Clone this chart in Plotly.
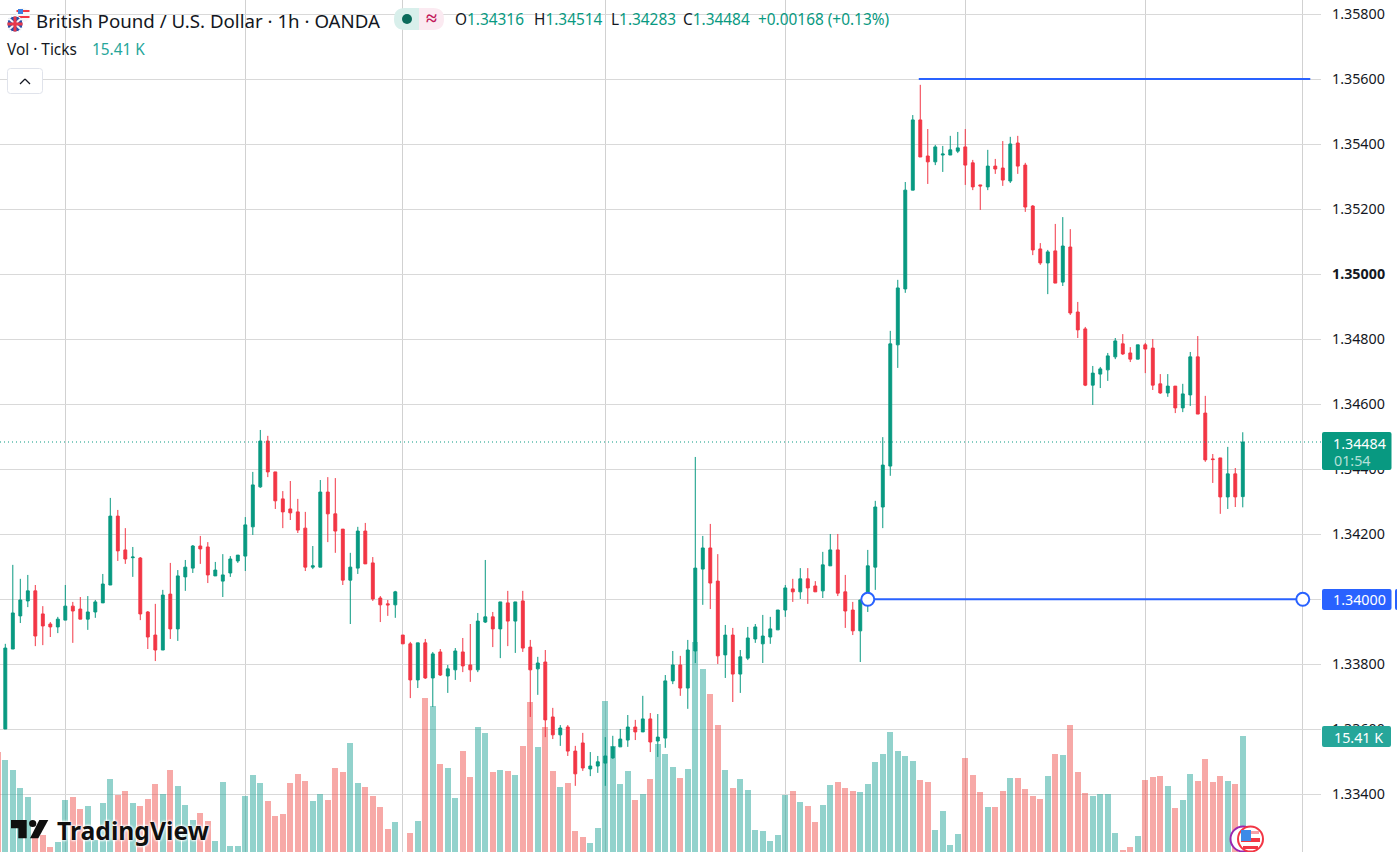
import plotly.graph_objects as go

W, H = 1397, 852
TEAL = "#089981"
RED = "#f23645"
BLUE = "#2962ff"
INK = "#131722"
FONT = "Noto Sans"

bars = list(range(-1, 166))
opens = [1.33620,
1.33601,1.33847,1.33949,1.33995,1.34026,1.33955,1.33924,1.33915,1.33936,1.33979,
1.33970,1.33939,1.33961,1.33989,1.34044,1.34256,1.34152,1.34128,1.34127,1.33961,
1.33890,1.33844,1.34016,1.33909,1.34069,1.34096,1.34164,1.34161,1.34072,1.34056,
1.34081,1.34118,1.34133,1.34223,1.34346,1.34487,1.34392,1.34309,1.34278,1.34269,
1.34219,1.34099,1.34099,1.34330,1.34263,1.34216,1.34059,1.34096,1.34210,1.34112,
1.34004,1.33986,1.33983,1.33890,1.33863,1.33752,1.33866,1.33758,1.33838,1.33764,
1.33783,1.33838,1.33798,1.33783,1.33930,1.33946,1.33909,1.33989,1.33933,1.33995,
1.33853,1.33786,1.33807,1.33638,1.33583,1.33607,1.33533,1.33558,1.33478,1.33487,
1.33496,1.33512,1.33546,1.33567,1.33607,1.33592,1.33632,1.33564,1.33573,1.33749,
1.33798,1.33727,1.33841,1.34093,1.34158,1.34056,1.33829,1.33890,1.33770,1.33819,
1.33878,1.33863,1.33884,1.33906,1.33967,1.34032,1.34023,1.34063,1.34041,1.34026,
1.34103,1.34152,1.34023,1.33967,1.33903,1.34000,1.34099,1.34284,1.34410,1.34783,
1.34955,1.35259,1.35475,1.35364,1.35346,1.35367,1.35367,1.35379,1.35392,1.35343,
1.35275,1.35269,1.35333,1.35327,1.35287,1.35404,1.35336,1.35210,1.35078,1.35035,
1.35072,1.34976,1.35084,1.34884,1.34832,1.34659,1.34693,1.34706,1.34746,1.34786,
1.34758,1.34739,1.34783,1.34773,1.34663,1.34635,1.34656,1.34589,1.34629,1.34746,
1.34573,1.34432,1.34435,1.34315,1.34386,1.34316]
highs = [1.33640,
1.33863,1.34106,1.34063,1.34075,1.34044,1.33979,1.33930,1.33946,1.34044,1.33992,
1.34007,1.34010,1.33998,1.34078,1.34312,1.34275,1.34219,1.34161,1.34130,1.33964,
1.33986,1.34029,1.34112,1.34090,1.34121,1.34167,1.34195,1.34176,1.34115,1.34139,
1.34133,1.34136,1.34253,1.34392,1.34521,1.34503,1.34392,1.34333,1.34364,1.34309,
1.34269,1.34164,1.34367,1.34376,1.34373,1.34216,1.34143,1.34223,1.34235,1.34130,
1.34010,1.33998,1.34026,1.33890,1.33869,1.33866,1.33878,1.33838,1.33847,1.33798,
1.33850,1.33881,1.33924,1.33958,1.34121,1.33961,1.33992,1.34026,1.33992,1.34026,
1.33875,1.33823,1.33844,1.33666,1.33613,1.33613,1.33549,1.33589,1.33530,1.33518,
1.33576,1.33580,1.33601,1.33644,1.33629,1.33703,1.33650,1.33647,1.33767,1.33841,
1.33826,1.33875,1.34438,1.34195,1.34232,1.34139,1.33921,1.33912,1.33844,1.33915,
1.33924,1.33952,1.33946,1.33967,1.34044,1.34063,1.34096,1.34096,1.34056,1.34146,
1.34201,1.34201,1.34075,1.33992,1.33998,1.34152,1.34303,1.34499,1.34826,1.34983,
1.35284,1.35490,1.35583,1.35447,1.35398,1.35395,1.35426,1.35438,1.35447,1.35352,
1.35275,1.35383,1.35355,1.35410,1.35423,1.35426,1.35343,1.35213,1.35096,1.35075,
1.35155,1.35176,1.35139,1.34915,1.34838,1.34718,1.34715,1.34758,1.34804,1.34816,
1.34776,1.34783,1.34789,1.34801,1.34693,1.34693,1.34656,1.34663,1.34761,1.34810,
1.34626,1.34447,1.34435,1.34469,1.34404,1.34514]
lows = [1.33590,
1.33601,1.33847,1.33927,1.33976,1.33856,1.33859,1.33884,1.33896,1.33936,1.33866,
1.33939,1.33906,1.33943,1.33989,1.34044,1.34118,1.34109,1.34069,1.33936,1.33847,
1.33810,1.33844,1.33878,1.33872,1.34026,1.34081,1.34109,1.34050,1.34072,1.34007,
1.34069,1.34112,1.34087,1.34198,1.34343,1.34376,1.34278,1.34219,1.34244,1.34204,
1.34087,1.34093,1.34099,1.34176,1.34143,1.34044,1.33924,1.34078,1.34109,1.33995,
1.33930,1.33949,1.33943,1.33863,1.33696,1.33727,1.33755,1.33669,1.33764,1.33712,
1.33752,1.33776,1.33746,1.33776,1.33927,1.33853,1.33819,1.33856,1.33835,1.33838,
1.33638,1.33706,1.33576,1.33570,1.33549,1.33518,1.33426,1.33472,1.33456,1.33466,
1.33426,1.33509,1.33546,1.33546,1.33567,1.33592,1.33530,1.33515,1.33543,1.33739,
1.33703,1.33663,1.33804,1.33983,1.33970,1.33801,1.33758,1.33684,1.33712,1.33813,
1.33866,1.33804,1.33863,1.33906,1.33946,1.33992,1.34001,1.33986,1.34023,1.34004,
1.34103,1.34010,1.33912,1.33890,1.33807,1.33961,1.34029,1.34219,1.34380,1.34712,
1.34943,1.35259,1.35361,1.35278,1.35336,1.35315,1.35367,1.35373,1.35275,1.35259,
1.35198,1.35259,1.35309,1.35272,1.35281,1.35309,1.35192,1.35059,1.35029,1.34939,
1.34973,1.34964,1.34875,1.34804,1.34656,1.34598,1.34650,1.34672,1.34739,1.34752,
1.34730,1.34739,1.34696,1.34644,1.34632,1.34623,1.34573,1.34576,1.34595,1.34570,
1.34423,1.34358,1.34263,1.34278,1.34284,1.34283]
closes = [1.33600,
1.33850,1.33958,1.33998,1.34026,1.33887,1.33918,1.33915,1.33939,1.33979,1.33964,
1.33939,1.33961,1.33992,1.34047,1.34256,1.34149,1.34124,1.34130,1.33955,1.33884,
1.33844,1.34013,1.33909,1.34072,1.34099,1.34164,1.34155,1.34075,1.34090,1.34075,
1.34124,1.34136,1.34229,1.34352,1.34487,1.34392,1.34303,1.34269,1.34266,1.34213,
1.34099,1.34103,1.34330,1.34263,1.34210,1.34059,1.34099,1.34210,1.34109,1.34001,
1.33983,1.33983,1.34023,1.33863,1.33752,1.33866,1.33758,1.33832,1.33767,1.33786,
1.33841,1.33795,1.33783,1.33933,1.33946,1.33909,1.33992,1.33933,1.33992,1.33850,
1.33783,1.33804,1.33629,1.33583,1.33604,1.33533,1.33463,1.33481,1.33487,1.33500,
1.33518,1.33546,1.33570,1.33607,1.33592,1.33632,1.33561,1.33576,1.33749,1.33798,
1.33727,1.33844,1.34096,1.34158,1.34050,1.33826,1.33890,1.33770,1.33823,1.33881,
1.33915,1.33887,1.33909,1.33967,1.34035,1.34023,1.34063,1.34035,1.34023,1.34106,
1.34152,1.34019,1.33964,1.33903,1.33998,1.34103,1.34284,1.34413,1.34786,1.34958,
1.35259,1.35475,1.35361,1.35346,1.35392,1.35370,1.35383,1.35389,1.35336,1.35269,
1.35272,1.35333,1.35324,1.35290,1.35401,1.35333,1.35207,1.35075,1.35035,1.35069,
1.34973,1.35087,1.34881,1.34829,1.34659,1.34696,1.34709,1.34749,1.34795,1.34755,
1.34739,1.34783,1.34770,1.34659,1.34635,1.34656,1.34589,1.34632,1.34746,1.34570,
1.34429,1.34430,1.34315,1.34386,1.34315,1.34484]
volumes_k = [13.29,
12.23,10.90,8.51,7.31,2.04,2.26,0.66,1.33,6.91,7.31,
5.71,6.11,1.59,6.51,9.70,7.58,8.11,6.51,6.11,7.04,
9.04,7.71,10.90,8.77,6.25,4.25,5.18,4.12,1.46,9.30,
0.80,0.80,7.44,10.23,9.17,6.78,4.78,5.05,9.17,10.37,
9.44,6.78,7.71,6.91,11.16,10.63,14.49,9.17,8.64,7.44,
5.98,3.06,3.99,0.0,2.53,4.12,20.47,19.40,11.70,11.16,
7.18,13.42,9.97,16.61,15.82,10.63,10.90,10.76,10.23,14.09,
19.94,13.95,16.61,10.76,8.64,9.17,2.79,1.99,1.20,3.19,
20.07,14.09,9.04,10.76,6.91,7.71,9.70,14.35,13.02,11.30,
9.83,11.03,27.91,24.32,21.00,16.88,10.90,8.51,9.70,8.24,
2.92,2.79,1.46,2.26,7.58,8.11,6.65,6.11,3.99,6.25,
8.90,9.30,8.51,8.11,7.97,9.04,11.96,13.02,15.95,13.42,
12.76,12.09,9.57,9.30,2.92,5.45,0.93,2.39,12.49,10.23,
7.97,5.98,5.98,8.11,9.83,9.83,8.37,7.44,7.04,10.10,
13.02,12.89,16.88,10.63,7.84,7.44,7.71,7.71,2.53,0.27,
0.66,2.13,9.57,9.97,10.10,8.77,5.85,6.91,10.37,9.44,
12.36,9.30,10.10,9.44,9.04,15.41]

price_ticks = [1.334, 1.336, 1.338, 1.340, 1.342, 1.344, 1.346, 1.348, 1.350, 1.352, 1.354, 1.356, 1.358]
price_labels = ["1.33400", "1.33600", "1.33800", "1.34000", "1.34200", "1.34400", "1.34600", "1.34800",
                "<b>1.35000</b>", "1.35200", "1.35400", "1.35600", "1.35800"]
time_grid = [8, 32, 53, 80, 104, 128, 152, 173]

last_price = 1.34484
upper_level = 1.35601
lower_level = 1.34000
upper_level_bars = [121.8, 174]
lower_level_bars = [115, 173]
visible_bars = [-0.707, 175.43]
price_range = [1.332225, 1.358440]
volume_range = [0, 113.2]

vol_colors = ["rgba(38,166,154,0.5)" if c >= o else "rgba(239,83,80,0.5)" for o, c in zip(opens, closes)]


def px(x):
    return x / W


def py(y):
    return 1 - y / H


def rrect(x0, y0, x1, y1, r=2):
    a, b, c, d = px(x0), py(y0), px(x1), py(y1)
    rx, ry = r / W, r / H
    return (f"M{a+rx},{b} L{c-rx},{b} Q{c},{b} {c},{b-ry} L{c},{d+ry} Q{c},{d} {c-rx},{d} "
            f"L{a+rx},{d} Q{a},{d} {a},{d+ry} L{a},{b-ry} Q{a},{b} {a+rx},{b} Z")


def poly(points):
    return "M" + " L".join(f"{px(x)},{py(y)}" for x, y in points) + " Z"


def circle(cx, cy, r, fill, line=None, lw=0):
    return dict(type="circle", xref="paper", yref="paper", x0=px(cx - r), x1=px(cx + r), y0=py(cy + r), y1=py(cy - r),
                fillcolor=fill, line=dict(color=line or fill, width=lw), layer="above")


def path(d, fill, line=None, lw=0):
    return dict(type="path", xref="paper", yref="paper", path=d, fillcolor=fill,
                line=dict(color=line or fill, width=lw), layer="above")


def segment(x0, y0, x1, y1, color, lw=1):
    return dict(type="line", xref="paper", yref="paper", x0=px(x0), x1=px(x1), y0=py(y0), y1=py(y1),
                line=dict(color=color, width=lw), layer="above")


def text(x, y, s, size=13, color=INK, anchor="left", family=FONT, shadow=None):
    f = dict(size=size, color=color, family=family)
    if shadow:
        f["shadow"] = shadow
    return dict(xref="paper", yref="paper", x=px(x), y=py(y), text=s, showarrow=False, xanchor=anchor,
                yanchor="middle", font=f, xshift=0, yshift=0)


fig = go.Figure()
fig.add_trace(go.Bar(x=bars, y=volumes_k, marker=dict(color=vol_colors, line=dict(width=0)), width=0.85,
                     yaxis="y", xaxis="x", hoverinfo="skip", showlegend=False))
fig.add_trace(go.Scatter(x=visible_bars, y=[last_price, last_price], mode="lines", yaxis="y2",
                         line=dict(color=TEAL, width=1, dash="1px,3px"), hoverinfo="skip", showlegend=False))
fig.add_trace(go.Candlestick(x=bars, open=opens, high=highs, low=lows, close=closes, yaxis="y2",
                             increasing=dict(line=dict(color=TEAL, width=1), fillcolor=TEAL),
                             decreasing=dict(line=dict(color=RED, width=1), fillcolor=RED),
                             whiskerwidth=0, hoverinfo="skip", showlegend=False))
fig.add_trace(go.Scatter(x=upper_level_bars, y=[upper_level, upper_level], mode="lines", yaxis="y2",
                         line=dict(color=BLUE, width=2), hoverinfo="skip", showlegend=False))
fig.add_trace(go.Scatter(x=lower_level_bars, y=[lower_level, lower_level], mode="lines+markers", yaxis="y2",
                         line=dict(color=BLUE, width=2),
                         marker=dict(size=13, color="white", line=dict(color=BLUE, width=2)),
                         hoverinfo="skip", showlegend=False))

shapes = [
    # price tags
    path(rrect(1322, 432, 1391.5, 470), TEAL),
    path(rrect(1322, 589, 1391.5, 610), BLUE),
    path(rrect(1395, 589, 1400, 610), BLUE),
    path(rrect(1322, 726, 1391, 747), "#26a69a"),
    # collapse button
    path(rrect(7.5, 68.5, 42.5, 93.5, 3), "white", "#e0e3eb", 1),
    segment(20, 84, 25, 79, INK, 1.3),
    segment(25, 79, 30, 84, INK, 1.3),
    # status pill
    path(rrect(394, 8, 430, 30, 11), "#d8efeb"),
    path(rrect(408, 8, 444, 30, 11), "#fbeaf1"),
    path(rrect(408, 8, 419, 30, 0), "#d8efeb"),
    circle(407, 19, 5, "#0a6b5b"),
    # currency flags
    circle(23, 15, 7, "#f7f7f7"),
    path(poly([(16.5, 10), (29.5, 10), (29.5, 12), (16.5, 12)]), "#f23645"),
    path(poly([(16.5, 16), (29.5, 16), (29.5, 18), (16.5, 18)]), "#f23645"),
    path(poly([(18, 9), (23, 9), (23, 14), (18, 14)]), "#3d7fe0"),
    circle(15, 24, 8, "#2b4fa8", "white", 1),
    path(poly([(8, 19), (10, 18), (22, 29), (20, 30)]), "#f5f5f5"),
    path(poly([(22, 19), (20, 18), (8, 29), (10, 30)]), "#f5f5f5"),
    path(poly([(7.5, 22.5), (22.5, 22.5), (22.5, 25.5), (7.5, 25.5)]), "#e8384a"),
    path(poly([(13.5, 16.5), (16.5, 16.5), (16.5, 31.5), (13.5, 31.5)]), "#e8384a"),
    # TradingView logo
    path(poly([(11, 820), (26.7, 820), (26.7, 838.3), (18.3, 838.3), (18.3, 828.3), (11, 828.3)]), "#0f0f0f"),
    circle(32.7, 823.5, 3.6, "#0f0f0f"),
    path(poly([(39.3, 820), (48.3, 820), (38.3, 838.3), (30, 838.3)]), "#0f0f0f"),
    # event badges
    circle(1243, 839, 12.5, "white", "#9c27b0", 2),
    circle(1250.5, 839, 12.5, "white", "#f23645", 2),
    path(poly([(1241, 831), (1259, 831), (1259, 834), (1241, 834)]), "#f7a0a8"),
    path(poly([(1241, 838), (1260, 838), (1260, 842), (1241, 842)]), "#f23645"),
    path(poly([(1243, 846), (1258, 846), (1258, 849), (1243, 849)]), "#f23645"),
    path(poly([(1241, 830), (1251, 830), (1251, 841), (1241, 841)]), "#3d8be8"),
]

annotations = [
    text(33.5, 20, "British Pound / U.S. Dollar · 1h · OANDA", 18.7, INK),
    text(431, 18, "<b>≈</b>", 20, "#c2185b", "center"),
    text(452.5, 19, f'O<span style="color:{TEAL}">1.34316</span>', 15.4),
    text(531.5, 19, f'H<span style="color:{TEAL}">1.34514</span>', 15.4),
    text(608.5, 19, f'L<span style="color:{TEAL}">1.34283</span>', 15.4),
    text(680.5, 19, f'C<span style="color:{TEAL}">1.34484</span>', 15.4),
    text(755.5, 19, f'<span style="color:{TEAL}">+0.00168 (+0.13%)</span>', 15.4),
    text(5, 49, "Vol · Ticks", 15.4),
    text(89.5, 49, "15.41 K", 15.4, "#26a69a"),
    text(1359, 443, "1.34484", 14.3, "white", "center"),
    text(1352, 460, "01:54", 14.3, "#b5e0d8", "center"),
    text(1359, 599.5, "1.34000", 14.3, "white", "center"),
    text(1358, 737, "15.41 K", 14.3, "white", "center"),
    text(55, 830, "<b>TradingView</b>", 24.7, "#0f0f0f", shadow="0 0 3px #fff, 0 0 3px #fff, 0 0 3px #fff"),
]

fig.update_layout(
    width=W, height=H, autosize=False,
    margin=dict(l=0, r=0, t=0, b=0),
    paper_bgcolor="white", plot_bgcolor="white",
    showlegend=False, bargap=0, dragmode=False, boxgap=0.45,
    xaxis=dict(domain=[0, 1321 / W], range=visible_bars, rangeslider=dict(visible=False), tickmode="array",
               tickvals=time_grid, showticklabels=False, ticks="", showgrid=True, gridcolor="#d1d1d1", gridwidth=1,
               zeroline=False, showline=False),
    yaxis=dict(domain=[0, 1], range=volume_range, visible=False, showgrid=False, fixedrange=True),
    yaxis2=dict(domain=[0, 1], range=price_range, overlaying="y", side="right", anchor="x", tickmode="array",
                tickvals=price_ticks, ticktext=price_labels, showgrid=True, gridcolor="#d9d9d9", gridwidth=1,
                zeroline=False, showline=False, ticks="", ticklabelstandoff=10,
                tickfont=dict(size=14.3, color=INK, family=FONT)),
    shapes=shapes, annotations=annotations,
)

fig.write_html("out.html", config=dict(displayModeBar=False),
               post_script="document.body.style.margin='0';document.body.style.overflow='hidden';")
